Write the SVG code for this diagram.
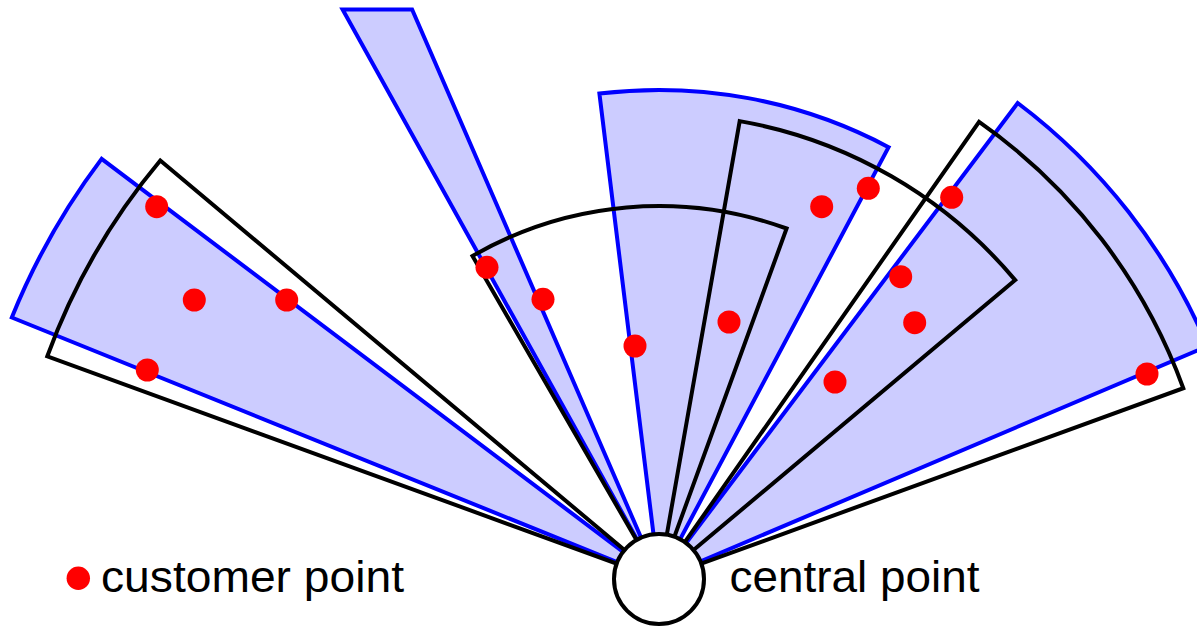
<svg xmlns="http://www.w3.org/2000/svg" width="1197" height="628" viewBox="0 0 1197 628">
<style>
.bs{fill:#ccccff;stroke:#0000ff;stroke-width:4;stroke-linejoin:miter}
.ks{fill:none;stroke:#000000;stroke-width:4;stroke-linejoin:miter}
.dot{fill:#ff0000}
.lbl{font-family:"Liberation Sans",Arial,sans-serif;font-size:45px;fill:#000000}
</style>
<rect width="1197" height="628" fill="#ffffff"/>
<g id="connectors">
<g id="blue-sectors">
<path id="blue1" class="bs" d="M659,579 L11.8,317.5 A698,698 0 0 1 101.6,158.9 Z"/>
<path id="blue2" class="bs" d="M659,579 L342.6,9.5 L412.1,9.5 Z"/>
<path id="blue3" class="bs" d="M659,579 L599.4,93.6 A489,489 0 0 1 888.6,147.2 Z"/>
<path id="blue4" class="bs" d="M659,579 L1017.7,103 A596,596 0 0 1 1207.6,346.1 Z"/>
</g>
<g id="black-sectors">
<path id="black1" class="ks" d="M659,579 L47.3,356.3 A651,651 0 0 1 160.3,160.5 Z"/>
<path id="black2" class="ks" d="M659,579 L472.5,256 A373,373 0 0 1 786.6,228.5 Z"/>
<path id="black3" class="ks" d="M659,579 L739.7,121.1 A465,465 0 0 1 1015.2,280.1 Z"/>
<path id="black4" class="ks" d="M659,579 L979.1,121.9 A558,558 0 0 1 1183.3,388.2 Z"/>
</g>
</g>
<g id="customers">
<circle class="dot" cx="156.7" cy="206.7" r="11.5"/>
<circle class="dot" cx="194.3" cy="300" r="11.5"/>
<circle class="dot" cx="286.7" cy="300" r="11.5"/>
<circle class="dot" cx="147.3" cy="370" r="11.5"/>
<circle class="dot" cx="487" cy="267.3" r="11.5"/>
<circle class="dot" cx="543" cy="299.3" r="11.5"/>
<circle class="dot" cx="635" cy="346" r="11.5"/>
<circle class="dot" cx="729" cy="322" r="11.5"/>
<circle class="dot" cx="821.7" cy="206.7" r="11.5"/>
<circle class="dot" cx="868.3" cy="188.3" r="11.5"/>
<circle class="dot" cx="951.7" cy="197.3" r="11.5"/>
<circle class="dot" cx="900.7" cy="276.7" r="11.5"/>
<circle class="dot" cx="914.7" cy="322.7" r="11.5"/>
<circle class="dot" cx="835" cy="382" r="11.5"/>
<circle class="dot" cx="1147" cy="374" r="11.5"/>
</g>
<g id="central">
<circle cx="659" cy="579" r="45" fill="#ffffff" stroke="#000000" stroke-width="4"/>
</g>
<g id="legend-customer">
<circle class="dot" cx="78.3" cy="578.3" r="11.7"/>
<text class="lbl" x="101" y="592" textLength="303" lengthAdjust="spacingAndGlyphs">customer point</text>
</g>
<g id="legend-central">
<text class="lbl" x="729.5" y="592" textLength="250" lengthAdjust="spacingAndGlyphs">central point</text>
</g>
</svg>
